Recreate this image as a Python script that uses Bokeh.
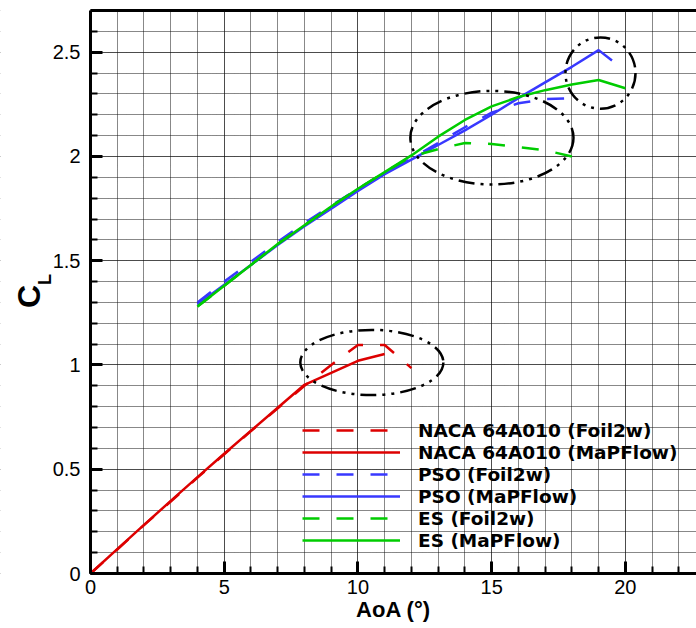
import math
from bokeh.plotting import figure
from bokeh.models import (SingleIntervalTicker, CustomJSTickFormatter, Legend, LegendItem,
                          Label, Range1d, BoxAnnotation, LinearAxis, FixedTicker)
from bokeh.embed import file_html
from bokeh.resources import INLINE

# ---- data ----
aoa_naca = [0, 1, 2, 3, 4, 5, 6, 7, 8, 9, 10, 11, 12]
cl_naca_foil2w = [0, 0.115, 0.232, 0.345, 0.46, 0.572, 0.683, 0.792, 0.90, 1.0, 1.096, 1.096, 0.985]
aoa_naca_mapflow = [0, 1, 2, 3, 4, 5, 6, 7, 8, 9, 10, 11]
cl_naca_mapflow = [0, 0.117, 0.233, 0.348, 0.462, 0.574, 0.685, 0.795, 0.905, 0.962, 1.02, 1.053]

aoa_pso_foil2w = [4, 5, 6, 7, 8, 9, 10, 11, 12, 13, 14, 15, 16, 17, 18]
cl_pso_foil2w = [1.30, 1.40, 1.495, 1.59, 1.68, 1.765, 1.845, 1.92, 1.99, 2.065, 2.14, 2.21, 2.255, 2.275, 2.28]
aoa_pso_mapflow = [4, 5, 6, 7, 8, 9, 10, 11, 12, 13, 14, 15, 16, 17, 18, 19, 19.5]
cl_pso_mapflow = [1.29, 1.385, 1.48, 1.575, 1.665, 1.75, 1.835, 1.915, 1.985, 2.055, 2.125, 2.20, 2.28, 2.355, 2.43, 2.51, 2.46]

aoa_es_foil2w = [4, 5, 6, 7, 8, 9, 10, 11, 12, 13, 14, 15, 16, 17, 18]
cl_es_foil2w = [1.28, 1.38, 1.48, 1.58, 1.67, 1.76, 1.845, 1.925, 2.0, 2.035, 2.065, 2.06, 2.045, 2.03, 2.0]
aoa_es_mapflow = [4, 5, 6, 7, 8, 9, 10, 11, 12, 13, 14, 15, 16, 17, 18, 19, 20]
cl_es_mapflow = [1.28, 1.38, 1.48, 1.58, 1.67, 1.76, 1.845, 1.925, 2.005, 2.095, 2.175, 2.24, 2.285, 2.318, 2.345, 2.367, 2.327]

# highlighted regions (ellipses): centre, width, height in data units
ellipse_x = [10.52, 15.01, 19.07]
ellipse_y = [1.012, 2.09, 2.40]
ellipse_w = [5.35, 6.1, 2.62]
ellipse_h = [0.3125, 0.449, 0.342]

labels = ["NACA 64A010 (Foil2w)", "NACA 64A010 (MaPFlow)", "PSO (Foil2w)",
          "PSO (MaPFlow)", "ES (Foil2w)", "ES (MaPFlow)"]
x_title = "AoA (°)"
y_title_main = "C"
y_title_sub = "L"

X_MAX = 22.66
Y_TOP = 2.7

RED = "#dd0000"
BLUE = "#3838ff"
GREEN = "#00cc00"
DASH = "17 17"

# canvas geometry: plot box from x=90..696, y=10..573 (pixels, top-left origin)
W, H = 696, 628
BOX_L, BOX_T, BOX_B = 90, 10, 573
px_x = (W - BOX_L) / X_MAX
px_y = (BOX_B - BOX_T) / Y_TOP
x_lo = -BOX_L / px_x
y_lo = -(H - BOX_B) / px_y
y_hi = Y_TOP + BOX_T / px_y

p = figure(width=W, height=H, output_backend="svg", toolbar_location=None,
           x_range=Range1d(x_lo, X_MAX), y_range=Range1d(y_lo, y_hi),
           min_border_left=0, min_border_right=0, min_border_top=0, min_border_bottom=0)
p.outline_line_color = None
p.background_fill_color = "white"

xt = SingleIntervalTicker(interval=5, num_minor_ticks=5)
yt = SingleIntervalTicker(interval=0.5, num_minor_ticks=5)

xax = p.xaxis[0]
yax = p.yaxis[0]
xax.ticker = xt
yax.ticker = yt
yax.formatter = CustomJSTickFormatter(code="return String(Math.round(tick*10)/10)")
yax.fixed_location = 0
xax.fixed_location = 0
yax.bounds = (0, Y_TOP)
xax.bounds = (0, X_MAX)
for ax in (xax, yax):
    ax.axis_line_width = 3
    ax.axis_line_color = "black"
    ax.major_tick_in = 12
    ax.major_tick_out = 0
    ax.minor_tick_in = 7
    ax.minor_tick_out = 0
    ax.major_tick_line_width = 3
    ax.minor_tick_line_width = 2
    ax.major_tick_line_color = "black"
    ax.minor_tick_line_color = "black"
    ax.major_label_text_font = "Liberation Sans"
    ax.major_label_text_font_size = "20px"
    ax.major_label_text_color = "black"
xax.major_label_standoff = 6
yax.major_label_standoff = 10
xax.axis_label = x_title
xax.axis_label_text_font = "Liberation Sans"
xax.axis_label_text_font_style = "bold"
xax.axis_label_text_font_size = "22px"
xax.axis_label_text_color = "black"
xax.axis_label_standoff = 0

for g, t, b in ((p.xgrid[0], xt, (0, X_MAX)), (p.ygrid[0], yt, (0, Y_TOP))):
    g.ticker = t
    g.bounds = b
    g.grid_line_color = "#111111"
    g.grid_line_dash = "1 1"
    g.grid_line_width = 1
    g.minor_grid_line_color = "#111111"
    g.minor_grid_line_dash = "1 1"
    g.minor_grid_line_width = 1

# top border as a bare axis line
top = LinearAxis(fixed_location=Y_TOP, bounds=(0, X_MAX), ticker=FixedTicker(ticks=[]),
                 axis_line_width=3, axis_line_color="black",
                 major_tick_in=0, major_tick_out=0, minor_tick_in=0, minor_tick_out=0,
                 major_label_text_font_size="0px")
p.add_layout(top, "above")

# white masks hiding grid lines outside the plot box (extended past the canvas edges)
pad_x, pad_y = 2.0, 0.5
masks = (dict(left=x_lo - pad_x, right=0, bottom=y_lo - pad_y, top=y_hi + pad_y),
         dict(left=x_lo - pad_x, right=X_MAX + pad_x, bottom=y_lo - pad_y, top=0),
         dict(left=x_lo - pad_x, right=X_MAX + pad_x, bottom=Y_TOP, top=y_hi + pad_y))
for kw in masks:
    p.add_layout(BoxAnnotation(fill_color="white", fill_alpha=1.0, line_alpha=0,
                               level="underlay", **kw))

r1 = p.line(aoa_naca, cl_naca_foil2w, line_color=RED, line_width=2.5, line_dash=DASH)
r2 = p.line(aoa_naca_mapflow, cl_naca_mapflow, line_color=RED, line_width=2.5)
r3 = p.line(aoa_pso_foil2w, cl_pso_foil2w, line_color=BLUE, line_width=2.5, line_dash=DASH)
r4 = p.line(aoa_pso_mapflow, cl_pso_mapflow, line_color=BLUE, line_width=2.5)
r5 = p.line(aoa_es_foil2w, cl_es_foil2w, line_color=GREEN, line_width=2.5, line_dash=DASH)
r6 = p.line(aoa_es_mapflow, cl_es_mapflow, line_color=GREEN, line_width=2.5)

p.ellipse(x=ellipse_x, y=ellipse_y, width=ellipse_w, height=ellipse_h,
          fill_color=None, line_color="black", line_width=2.5, line_dash="16 6 3 6 3 6")

legend = Legend(items=[LegendItem(label=l, renderers=[r]) for l, r in zip(labels, [r1, r2, r3, r4, r5, r6])],
                location=(302, 77), padding=0, margin=0, spacing=0,
                glyph_width=98, glyph_height=22, label_height=22, label_standoff=18,
                label_text_font="DejaVu Sans", label_text_font_style="bold",
                label_text_font_size="18.5px", label_text_color="black",
                background_fill_alpha=0, border_line_color=None)
p.add_layout(legend)

# rotated y title C_L (screen units, frame = whole canvas)
p.add_layout(Label(x=28.5, y=332, x_units="screen", y_units="screen", text=y_title_main,
                   angle=math.pi / 2, text_font="Liberation Sans", text_font_style="bold",
                   text_font_size="32px", text_align="center", text_baseline="middle",
                   text_color="black"))
p.add_layout(Label(x=44.5, y=349, x_units="screen", y_units="screen", text=y_title_sub,
                   angle=math.pi / 2, text_font="Liberation Sans", text_font_style="bold",
                   text_font_size="18px", text_align="center", text_baseline="middle",
                   text_color="black"))

open("out.html", "w").write(file_html(p, INLINE))
